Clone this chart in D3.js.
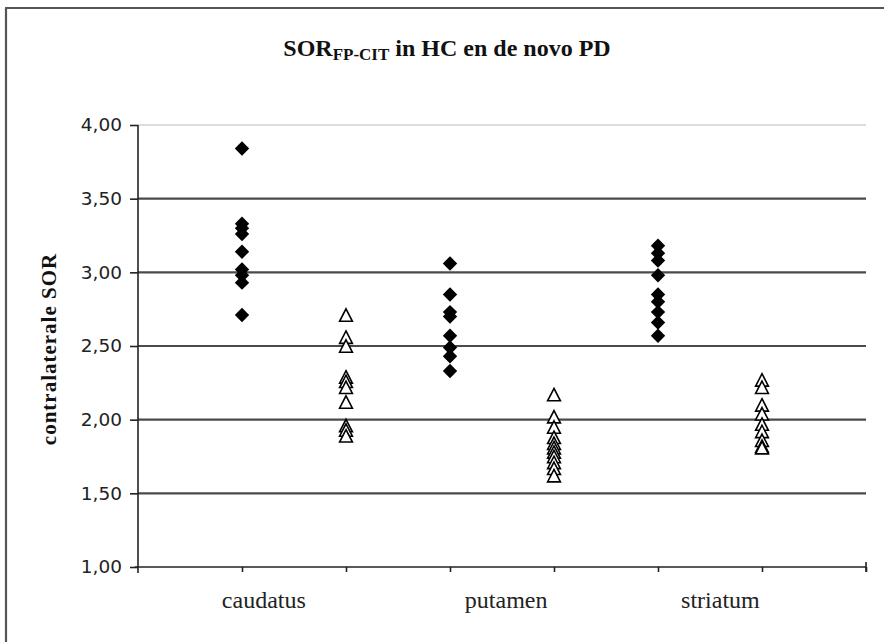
<!DOCTYPE html>
<html><head><meta charset="utf-8">
<script src="https://cdn.jsdelivr.net/npm/d3@7"></script>
<style>html,body{margin:0;padding:0;background:#fff;}svg{display:block;}</style>
</head><body>
<script>
const categories = ["caudatus", "putamen", "striatum"];
const hcCaudatus = [3.84, 3.33, 3.30, 3.26, 3.14, 3.02, 2.98, 2.93, 2.71];
const pdCaudatus = [2.71, 2.56, 2.50, 2.29, 2.26, 2.22, 2.12, 1.96, 1.93, 1.89];
const hcPutamen = [3.06, 2.85, 2.73, 2.70, 2.57, 2.49, 2.43, 2.33];
const pdPutamen = [2.17, 2.02, 1.95, 1.88, 1.84, 1.81, 1.78, 1.75, 1.71, 1.67, 1.62];
const hcStriatum = [3.18, 3.13, 3.08, 2.98, 2.85, 2.80, 2.73, 2.66, 2.57];
const pdStriatum = [2.27, 2.22, 2.10, 2.04, 1.97, 1.92, 1.86, 1.82, 1.81];
const yTicks = [1.0, 1.5, 2.0, 2.5, 3.0, 3.5, 4.0];
const labelPos = [1.21, 3.54, 5.6];

const hcSeries = [hcCaudatus, hcPutamen, hcStriatum];
const pdSeries = [pdCaudatus, pdPutamen, pdStriatum];

const W = 884, H = 642;
const svg = d3.select("body").append("svg").attr("width", W).attr("height", H);

// outer frame
svg.append("line").attr("x1", 6).attr("x2", 6).attr("y1", 8).attr("y2", H).attr("stroke", "#555").attr("stroke-width", 2.2);
svg.append("line").attr("x1", 5).attr("x2", W).attr("y1", 8).attr("y2", 8).attr("stroke", "#555").attr("stroke-width", 2.2);

const x = d3.scaleLinear().domain([0, 7]).range([138, 866]);
const y = d3.scaleLinear().domain([1, 4]).range([567, 125]);

// plot-area top border
svg.append("line").attr("x1", x(0)).attr("x2", x(7)).attr("y1", y(4)).attr("y2", y(4)).attr("stroke", "#bbb").attr("stroke-width", 1.2);

// gridlines
svg.append("g").selectAll("line").data(yTicks.filter(v => v > 1 && v < 4)).join("line")
  .attr("x1", x(0)).attr("x2", x(7)).attr("y1", d => y(d)).attr("y2", d => y(d))
  .attr("stroke", "#2a2a2a").attr("stroke-width", 2.2).attr("stroke-opacity", 0.85);

// y axis
const yAxis = d3.axisLeft(y).tickValues(yTicks).tickSize(8).tickPadding(8)
  .tickFormat(d => d3.format(".2f")(d).replace(".", ","));
const gy = svg.append("g").attr("transform", `translate(${x(0)},0)`).call(yAxis);
gy.select(".domain").remove();
gy.selectAll(".tick line").attr("stroke", "#222").attr("stroke-width", 1.6);
gy.selectAll(".tick text").attr("font-family", "DejaVu Sans, sans-serif").attr("font-size", 18.5).attr("fill", "#222");
gy.append("line").attr("x1", 0).attr("x2", 0).attr("y1", y(4)).attr("y2", y(1) + 6).attr("stroke", "#222").attr("stroke-width", 1.6);

// x axis
const xAxis = d3.axisBottom(x).tickValues(d3.range(1, 8)).tickSize(5).tickFormat("");
const gx = svg.append("g").attr("transform", `translate(0,${y(1)})`).call(xAxis);
gx.select(".domain").remove();
gx.selectAll(".tick line").attr("stroke", "#222").attr("stroke-width", 1.6);
gx.append("line").attr("x1", x(0) - 3).attr("x2", x(7)).attr("y1", 0).attr("y2", 0).attr("stroke", "#222").attr("stroke-width", 1.6);
gx.append("line").attr("x1", x(7)).attr("x2", x(7)).attr("y1", -5).attr("y2", 5).attr("stroke", "#222").attr("stroke-width", 1.6);

// category labels
svg.append("g").selectAll("text").data(categories).join("text")
  .attr("x", (d, i) => x(labelPos[i])).attr("y", 608)
  .attr("text-anchor", "middle").attr("font-family", "Liberation Serif, serif")
  .attr("font-size", 24).attr("fill", "#222").text(d => d);

// HC diamonds
const dia = 7.2;
hcSeries.forEach((vals, i) => {
  svg.append("g").selectAll("path").data(vals).join("path")
    .attr("transform", d => `translate(${x(2 * i + 1)},${y(d)})`)
    .attr("d", `M0,${-dia}L${dia},0L0,${dia}L${-dia},0Z`)
    .attr("fill", "#000");
});
// PD triangles
const tw = 6.4, th = 6.2;
pdSeries.forEach((vals, i) => {
  svg.append("g").selectAll("path").data(vals).join("path")
    .attr("transform", d => `translate(${x(2 * i + 2)},${y(d)})`)
    .attr("d", `M0,${-th}L${tw},${th}L${-tw},${th}Z`)
    .attr("fill", "#fff").attr("stroke", "#000").attr("stroke-width", 1.6);
});

// title
const title = svg.append("text").attr("x", 447).attr("y", 56).attr("text-anchor", "middle")
  .attr("font-family", "Liberation Serif, serif").attr("font-weight", "bold").attr("font-size", 24).attr("fill", "#111");
title.append("tspan").text("SOR");
title.append("tspan").attr("font-size", 17).attr("dy", 4).text("FP-CIT");
title.append("tspan").attr("dy", -4).text(" in HC en de novo PD");

// y label
svg.append("text").attr("transform", "translate(56,349) rotate(-90)").attr("text-anchor", "middle")
  .attr("font-family", "Liberation Serif, serif").attr("font-weight", "bold").attr("font-size", 21)
  .attr("letter-spacing", 1).attr("fill", "#111").text("contralaterale SOR");
</script>
</body></html>
